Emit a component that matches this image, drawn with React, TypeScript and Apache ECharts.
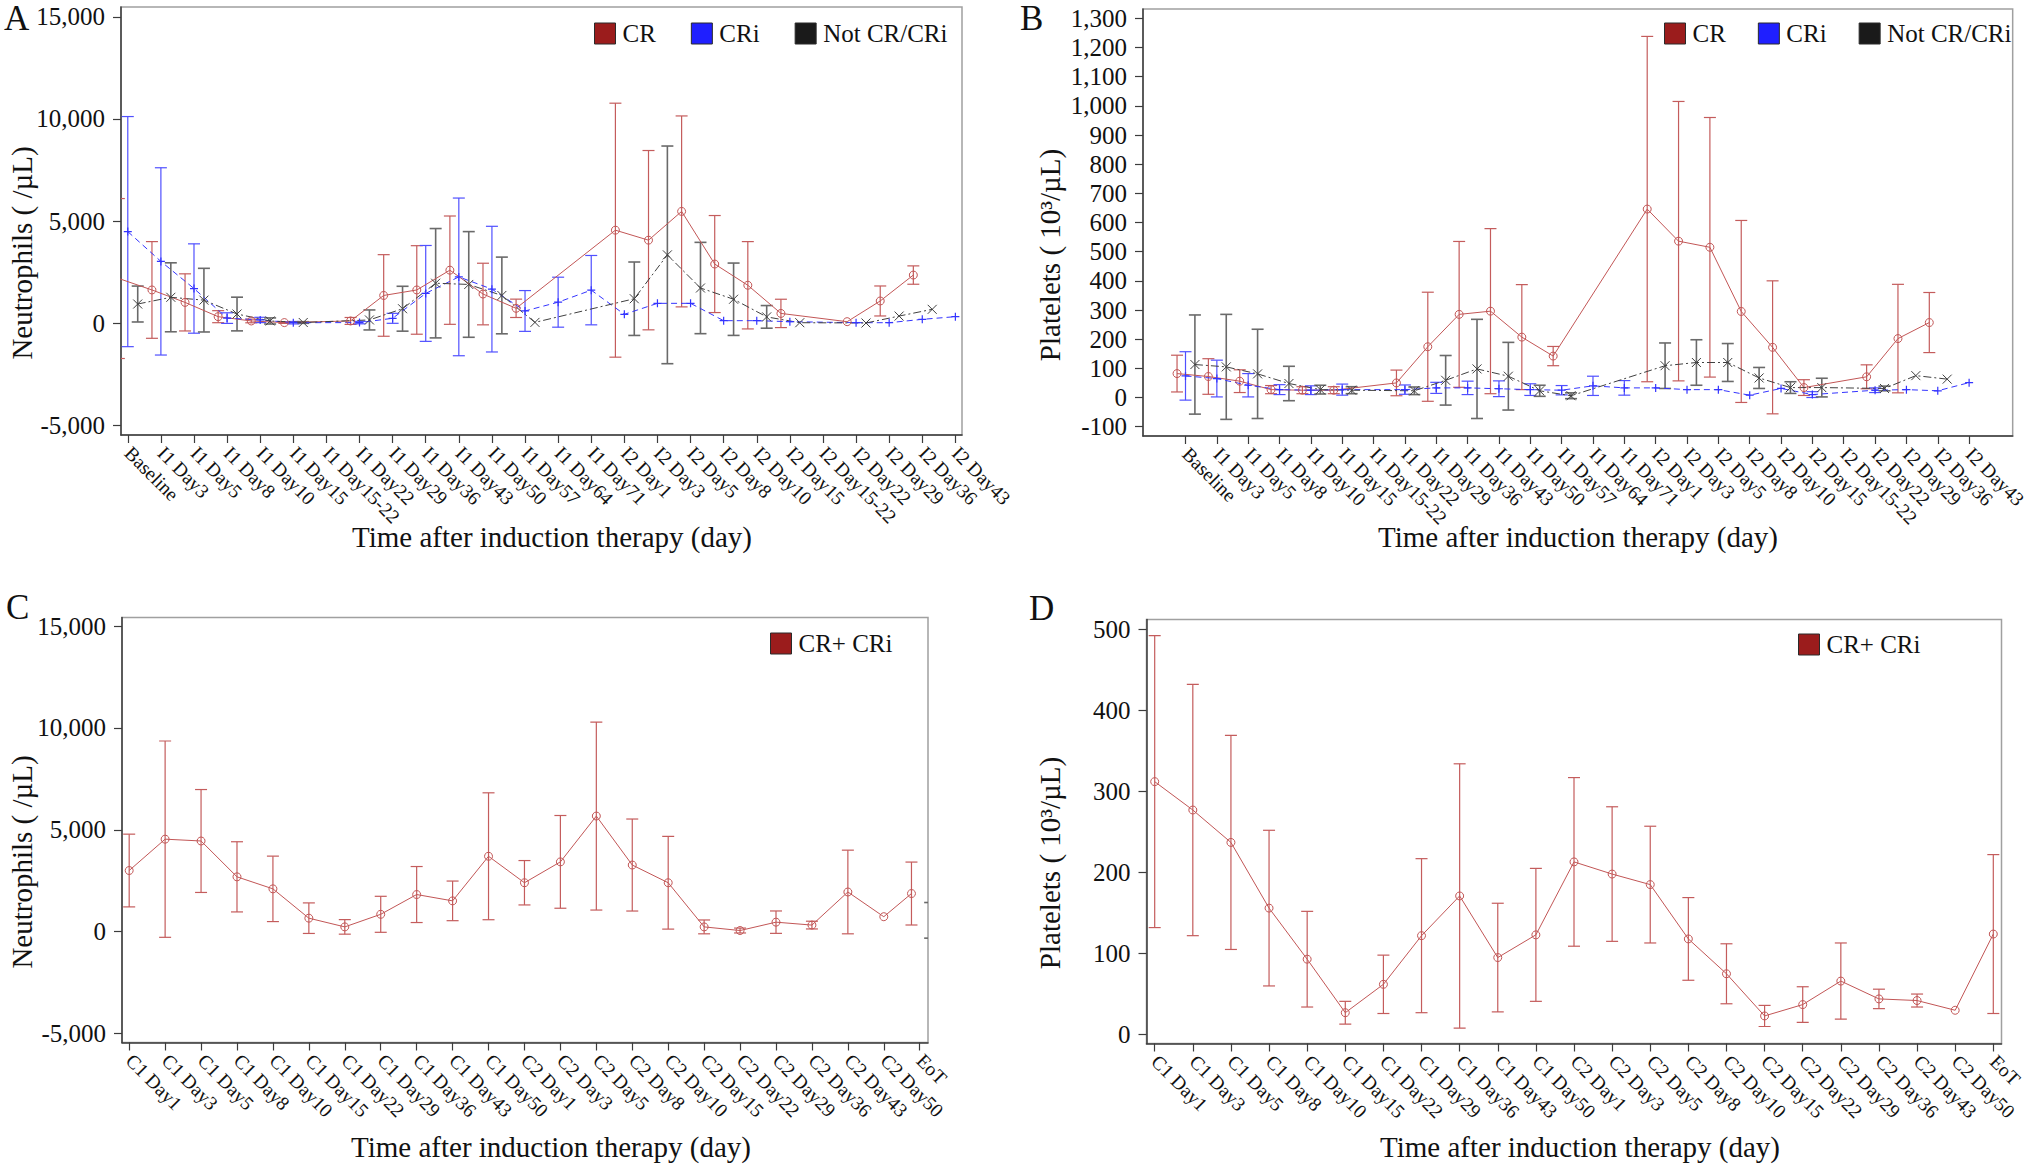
import React, { useEffect, useRef } from "react";
import * as echarts from "echarts";

const FONT = '"Liberation Serif", "Times New Roman", serif';

// ---------- categories ----------
const catsAB = [
  "Baseline", "I1 Day3", "I1 Day5", "I1 Day8", "I1 Day10", "I1 Day15", "I1 Day15-22", "I1 Day22",
  "I1 Day29", "I1 Day36", "I1 Day43", "I1 Day50", "I1 Day57", "I1 Day64", "I1 Day71", "I2 Day1",
  "I2 Day3", "I2 Day5", "I2 Day8", "I2 Day10", "I2 Day15", "I2 Day15-22", "I2 Day22", "I2 Day29",
  "I2 Day36", "I2 Day43",
];
const catsCD = [
  "C1 Day1", "C1 Day3", "C1 Day5", "C1 Day8", "C1 Day10", "C1 Day15", "C1 Day22", "C1 Day29",
  "C1 Day36", "C1 Day43", "C1 Day50", "C2 Day1", "C2 Day3", "C2 Day5", "C2 Day8", "C2 Day10",
  "C2 Day15", "C2 Day22", "C2 Day29", "C2 Day36", "C2 Day43", "C2 Day50", "EoT",
];

// ---------- tick labels ----------
const yTicksNeut = [-5000, 0, 5000, 10000, 15000];
const yTicksPltB = [-100, 0, 100, 200, 300, 400, 500, 600, 700, 800, 900, 1000, 1100, 1200, 1300];
const yTicksPltD = [0, 100, 200, 300, 400, 500];

// ---------- Panel A: Neutrophils (mean, SD) ----------
const aCRMean = [2180, 1620, 1010, 310, 100, 20, null, 100, 1350, 1620, 2590, 1420, 720, null, null, 4550, 4060, 5470, 2890, 1850, 470, null, 65, 1080, 2350, null];
const aCRSd = [3920, 2370, 1400, 295, 90, 40, null, 170, 2000, 2170, 2655, 1510, 450, null, null, 6225, 4395, 4680, 2378, 2140, 695, null, null, 735, 450, null];
const aCRiMean = [4480, 3020, 1690, 240, 150, 15, null, 20, 230, 1450, 2260, 1660, 590, 1020, 1610, 425, 964, 964, 114, 114, 65, null, 15, 15, 180, 310];
const aCRiSd = [5640, 4590, 2190, 260, 130, 60, null, 60, 245, 2350, 3865, 3080, 1000, 1225, 1700, null, null, null, null, null, null, null, null, null, null, null];
const aNotMean = [930, 1260, 1120, 440, 100, 25, null, 150, 700, 1950, 1890, 1350, 30, null, null, 1190, 3340, 1715, 1165, 300, 15, null, 0, 340, 670, null];
const aNotSd = [880, 1690, 1560, 826, 150, 40, null, 490, 1100, 2680, 2590, 1880, null, null, null, 1800, 5335, 2238, 1773, 555, null, null, null, null, null, null];

// ---------- Panel B: Platelets (mean, SD) ----------
const bCRMean = [82, 72, 56, 27, 25, 25, null, 50, 174, 285, 296, 207, 142, null, null, 646, 536, 515, 295, 172, 34, null, 71, 202, 257, null];
const bCRSd = [63, 61, 39, 14, 12, 12, null, 44, 187, 250, 283, 180, 33, null, null, 592, 479, 445, 312, 228, 27, null, 41, 186, 103, null];
const bCRiMean = [74, 65, 42, 27, 25, 27, null, 27, 33, 33, 30, 27, 25, 40, 33, 33, 27, 27, 8, 31, 10, null, 25, 27, 23, 51];
const bCRiSd = [83, 63, 40, 17, 15, 19, null, 16, 19, 23, 27, 20, 16, 33, 25, null, null, null, null, null, 10, null, 8, null, null, null];
const bNotMean = [113, 105, 81, 48, 27, 25, null, 23, 59, 98, 73, 23, 6, null, null, 109, 120, 120, 67, 34, 34, null, 31, 75, 63, null];
const bNotSd = [170, 180, 153, 59, 15, 12, null, 13, 85, 170, 116, 19, 10, null, null, 78, 78, 65, 36, 20, 32, null, 8, null, null, null];

// ---------- Panel C: Neutrophils CR+CRi (mean, SD) ----------
const cMean = [3000, 4540, 4450, 2690, 2100, 660, 232, 850, 1821, 1510, 3700, 2400, 3425, 5675, 3270, 2400, 232, 54, 464, 321, 1946, 732, 1870];
const cSd = [1786, 4820, 2527, 1723, 1607, 750, 357, 884, 1375, 973, 3116, 1090, 2277, 4616, 2259, 2277, 340, 120, 550, 190, 2054, null, 1545];
// partially visible bar at the right edge of panel C (EoT, second group)
const cEdgeMean = [null, null, null, null, null, null, null, null, null, null, null, null, null, null, null, null, null, null, null, null, null, null, 554];
const cEdgeSd = [null, null, null, null, null, null, null, null, null, null, null, null, null, null, null, null, null, null, null, null, null, null, 875];

// ---------- Panel D: Platelets CR+CRi (mean, SD) ----------
const dMean = [312, 277, 237, 156, 93, 27, 62, 122, 171, 95, 123, 213, 198, 185, 118, 75, 23, 37, 66, 44, 42, 30, 124];
const dSd = [180, 155, 132, 96, 59, 14, 36, 95, 163, 67, 82, 104, 83, 72, 51, 37, 13, 22, 47, 12, 8, null, 98];

// ---------- styling ----------
const RED = "#C25656";
const RED_BAR = "#C45C5C";
const BLUE = "#3434FF";
const BLUE_BAR = "#5050FF";
const GRAY = "#404040";
const GRAY_BAR = "#6a6a6a";
const OFF_CR = -0.27;
const OFF_CRI = 0;
const OFF_NOT = 0.3;
const C_EOT_SHIFT = -0.23;
const C_EDGE_SHIFT = 0.29;

const PLUS = "path://M0,5L10,5M5,0L5,10";
const CROSS = "path://M1,1L9,9M9,1L1,9";

type Arr = (number | null)[];
const pts = (mean: Arr, off: (i: number) => number) =>
  mean.map((v, i) => (v == null ? null : [i + off(i), v])).filter((p) => p !== null);
const bars = (mean: Arr, sd: Arr, off: (i: number) => number) =>
  mean
    .map((v, i) => (v == null || sd[i] == null ? null : [i + off(i), v - (sd[i] as number), v + (sd[i] as number)]))
    .filter((p) => p !== null);
const cst = (o: number) => () => o;

const fmtNum = (v: number) => {
  const s = Math.abs(Math.round(v)).toString().replace(/\B(?=(\d{3})+(?!\d))/g, ",");
  return (v < 0 ? "-" : "") + s;
};

const errRender = (color: string, width: number, cap: number) => (_p: any, api: any) => {
  const x = api.value(0);
  const lo = api.value(1);
  const hi = api.value(2);
  const a = api.coord([x, hi]);
  const b = api.coord([x, lo]);
  const style = { stroke: color, lineWidth: width, fill: null };
  return {
    type: "group",
    children: [
      { type: "line", shape: { x1: a[0], y1: a[1], x2: b[0], y2: b[1] }, style },
      { type: "line", shape: { x1: a[0] - cap, y1: a[1], x2: a[0] + cap, y2: a[1] }, style },
      { type: "line", shape: { x1: b[0] - cap, y1: b[1], x2: b[0] + cap, y2: b[1] }, style },
    ],
  };
};

const lineS = (name: string, data: any[], idx: number, color: string, symbol: string, size: number, ltype: any, bw = 1) => ({
  type: "line",
  name,
  xAxisIndex: idx,
  yAxisIndex: idx,
  data,
  symbol,
  symbolSize: size,
  showAllSymbol: true,
  connectNulls: true,
  clip: true,
  z: 3,
  lineStyle: { color, width: 1, type: ltype },
  itemStyle: { color: "rgba(0,0,0,0)", borderColor: color, borderWidth: bw },
  emphasis: { disabled: true },
  silent: true,
});

const barS = (name: string, data: any[], idx: number, color: string, width: number) => ({
  type: "custom",
  name,
  xAxisIndex: idx,
  yAxisIndex: idx,
  data,
  renderItem: errRender(color, width, 6),
  encode: { x: 0, y: [1, 2] },
  clip: true,
  z: 2,
  silent: true,
});

const xAxisCfg = (gridIndex: number, min: number, max: number, cats: string[], fontSize: number) => {
  const vals = cats.map((_, i) => i);
  return {
    type: "value",
    gridIndex,
    min,
    max,
    axisLine: { show: true, onZero: false, lineStyle: { color: "#3c3c3c", width: 1.5 } },
    axisTick: { show: true, customValues: vals, length: 8, lineStyle: { color: "#3c3c3c", width: 1.2 } },
    axisLabel: {
      customValues: vals,
      formatter: (v: number) => cats[Math.round(v)] ?? "",
      rotate: -45,
      margin: 15,
      fontSize,
      fontFamily: FONT,
      color: "#111",
    },
    splitLine: { show: false },
  };
};

const yAxisCfg = (gridIndex: number, min: number, max: number, ticks: number[]) => ({
  type: "value",
  gridIndex,
  min,
  max,
  axisLine: { show: true, onZero: false, lineStyle: { color: "#3c3c3c", width: 1.5 } },
  axisTick: { show: true, customValues: ticks, length: 8, lineStyle: { color: "#3c3c3c", width: 1.2 } },
  axisLabel: {
    customValues: ticks,
    formatter: (v: number) => fmtNum(v),
    margin: 16,
    fontSize: 25,
    fontFamily: FONT,
    color: "#111",
  },
  splitLine: { show: false },
});

const gridCfg = (left: number, top: number, width: number, height: number) => ({
  left,
  top,
  width,
  height,
  show: true,
  borderColor: "#a0a0a0",
  borderWidth: 1.5,
  backgroundColor: "transparent",
  containLabel: false,
});

const legendItem = (name: string, color: string) => ({
  name,
  icon: "rect",
  itemStyle: { color, borderColor: "#2a2a2a", borderWidth: 1 },
});

const legendCfg = (left: number, top: number, gap: number, items: any[]) => ({
  left,
  top,
  padding: 0,
  orient: "horizontal",
  itemWidth: 21,
  itemHeight: 21,
  itemGap: gap,
  selectedMode: false,
  data: items,
  textStyle: { fontFamily: FONT, fontSize: 25, color: "#111", padding: [0, 0, 0, 2] },
});

const txt = (text: string, x: number, y: number, size: number, opts: any = {}) => ({
  type: "text",
  x,
  y,
  rotation: opts.rotation ?? 0,
  silent: true,
  style: {
    text,
    fontSize: size,
    fontFamily: FONT,
    fill: "#111",
    align: opts.align ?? "center",
    verticalAlign: "middle",
  },
});

export default function App() {
  const ref = useRef<HTMLDivElement>(null);

  useEffect(() => {
    if (!ref.current) return;
    const chart = echarts.init(ref.current, null, { renderer: "svg" });
    const cOff = (i: number) => (i === catsCD.length - 1 ? C_EOT_SHIFT : 0);
    const abLegend = () => [
      legendItem("CR", "#9B1C1C"),
      legendItem("CRi", "#1F1FFF"),
      legendItem("Not CR/CRi", "#1A1A1A"),
    ];

    const option: any = {
      animation: false,
      backgroundColor: "#ffffff",
      grid: [
        gridCfg(121, 7, 841, 428),
        gridCfg(1143, 9, 884, 427),
        gridCfg(122, 617.5, 806, 425),
        gridCfg(1146.5, 619.5, 855, 424),
      ],
      xAxis: [
        xAxisCfg(0, -0.205, 25.2, catsAB, 19.5),
        xAxisCfg(1, -1.356, 26.39, catsAB, 19.5),
        xAxisCfg(2, -0.2, 22.23, catsCD, 19.5),
        xAxisCfg(3, -0.215, 22.215, catsCD, 19.5),
      ],
      yAxis: [
        yAxisCfg(0, -5490, 15490, yTicksNeut),
        yAxisCfg(1, -132, 1332, yTicksPltB),
        yAxisCfg(2, -5445, 15425, yTicksNeut),
        yAxisCfg(3, -11, 512, yTicksPltD),
      ],
      legend: [
        legendCfg(594, 21, 35, abLegend()),
        legendCfg(1664, 21, 32, abLegend()),
        legendCfg(770, 631, 35, [legendItem("CR+ CRi", "#9B1C1C")]),
        legendCfg(1798, 632, 35, [legendItem("CR+ CRi", "#9B1C1C")]),
      ],
      series: [
        // Panel A
        barS("CR", bars(aCRMean, aCRSd, cst(OFF_CR)), 0, RED_BAR, 1.2),
        barS("CRi", bars(aCRiMean, aCRiSd, cst(OFF_CRI)), 0, BLUE_BAR, 1.2),
        barS("Not CR/CRi", bars(aNotMean, aNotSd, cst(OFF_NOT)), 0, GRAY_BAR, 1.6),
        lineS("CR", pts(aCRMean, cst(OFF_CR)), 0, RED, "circle", 8, "solid"),
        lineS("CRi", pts(aCRiMean, cst(OFF_CRI)), 0, BLUE, PLUS, 8, [6, 4], 1.2),
        lineS("Not CR/CRi", pts(aNotMean, cst(OFF_NOT)), 0, GRAY, CROSS, 9, [8, 3, 2, 3], 1),
        // Panel B
        barS("CR", bars(bCRMean, bCRSd, cst(OFF_CR)), 1, RED_BAR, 1.2),
        barS("CRi", bars(bCRiMean, bCRiSd, cst(OFF_CRI)), 1, BLUE_BAR, 1.2),
        barS("Not CR/CRi", bars(bNotMean, bNotSd, cst(OFF_NOT)), 1, GRAY_BAR, 1.6),
        lineS("CR", pts(bCRMean, cst(OFF_CR)), 1, RED, "circle", 8, "solid"),
        lineS("CRi", pts(bCRiMean, cst(OFF_CRI)), 1, BLUE, PLUS, 8, [6, 4], 1.2),
        lineS("Not CR/CRi", pts(bNotMean, cst(OFF_NOT)), 1, GRAY, CROSS, 9, [8, 3, 2, 3], 1),
        // Panel C
        barS("CR+ CRi", bars(cMean, cSd, cOff), 2, RED_BAR, 1.2),
        barS("edge", bars(cEdgeMean, cEdgeSd, cst(C_EDGE_SHIFT)), 2, GRAY_BAR, 1.6),
        lineS("CR+ CRi", pts(cMean, cOff), 2, RED, "circle", 8, "solid"),
        // Panel D
        barS("CR+ CRi", bars(dMean, dSd, cst(0)), 3, RED_BAR, 1.2),
        lineS("CR+ CRi", pts(dMean, cst(0)), 3, RED, "circle", 8, "solid"),
      ],
      graphic: [
        txt("A", 4, 18.5, 35, { align: "left" }),
        txt("B", 1020, 18, 35, { align: "left" }),
        txt("C", 6, 607, 35, { align: "left" }),
        txt("D", 1029, 608, 35, { align: "left" }),
        txt("Neutrophils ( /µL)", 22, 253, 29, { rotation: Math.PI / 2 }),
        txt("Platelets ( 10³/µL)", 1050, 255, 29, { rotation: Math.PI / 2 }),
        txt("Neutrophils ( /µL)", 22, 862, 29, { rotation: Math.PI / 2 }),
        txt("Platelets ( 10³/µL)", 1050, 863, 29, { rotation: Math.PI / 2 }),
        txt("Time after induction therapy (day)", 552, 537, 29),
        txt("Time after induction therapy (day)", 1578, 537, 29),
        txt("Time after induction therapy (day)", 551, 1147, 29),
        txt("Time after induction therapy (day)", 1580, 1147, 29),
      ],
    };

    chart.setOption(option);
    return () => chart.dispose();
  }, []);

  return (
    <div
      ref={ref}
      style={{ position: "fixed", left: 0, top: 0, width: 2030, height: 1171, background: "#fff" }}
    />
  );
}
